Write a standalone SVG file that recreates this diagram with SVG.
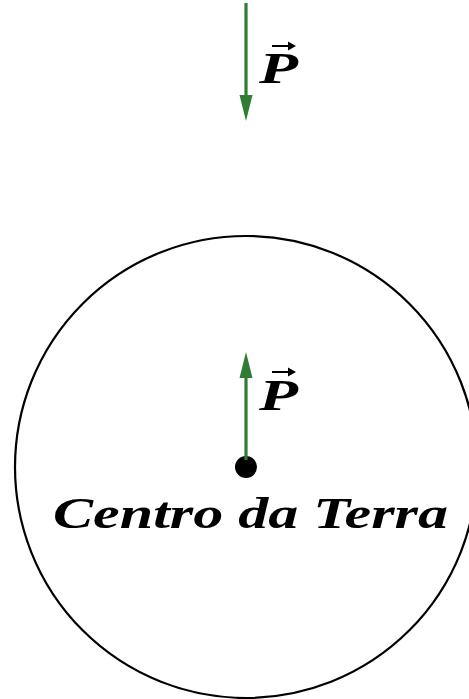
<svg xmlns="http://www.w3.org/2000/svg" width="469" height="699" viewBox="0 0 469 699">
<style>
.vec{stroke:#2e7d32;stroke-width:3.2;fill:none}
.lbl{font-family:"Liberation Serif","DejaVu Serif",serif;font-style:italic;font-weight:bold;fill:#000}
.va{stroke:#000;stroke-width:2;fill:none}
.vh{fill:#000}
</style>
<rect width="469" height="699" fill="#fff"/>
<g id="earth">
<circle cx="246" cy="467" r="231" fill="none" stroke="#000" stroke-width="2.2"/>
</g>
<g id="center">
<circle cx="246" cy="467" r="11" fill="#000"/>
<text class="lbl" x="53" y="528" font-size="44" textLength="395" lengthAdjust="spacingAndGlyphs">Centro da Terra</text>
</g>
<g id="connectors">
<path d="M246,3 V96" class="vec"/>
<path d="M239.5,95 L246,121 L252.5,95 Z" fill="#2e7d32"/>
<path d="M246,460 V377" class="vec"/>
<path d="M239.5,378 L246,352 L252.5,378 Z" fill="#2e7d32"/>
</g>
<g id="label-top">
<text class="lbl" x="259" y="83" font-size="44" textLength="39" lengthAdjust="spacingAndGlyphs">P</text>
<path d="M272,46 H290" class="va"/>
<path d="M288,41.5 L296,46 L288,50.5 Z" class="vh"/>
</g>
<g id="label-center">
<text class="lbl" x="259" y="410" font-size="44" textLength="39" lengthAdjust="spacingAndGlyphs">P</text>
<path d="M272,372 H290" class="va"/>
<path d="M288,367.5 L296,372 L288,376.5 Z" class="vh"/>
</g>
</svg>
